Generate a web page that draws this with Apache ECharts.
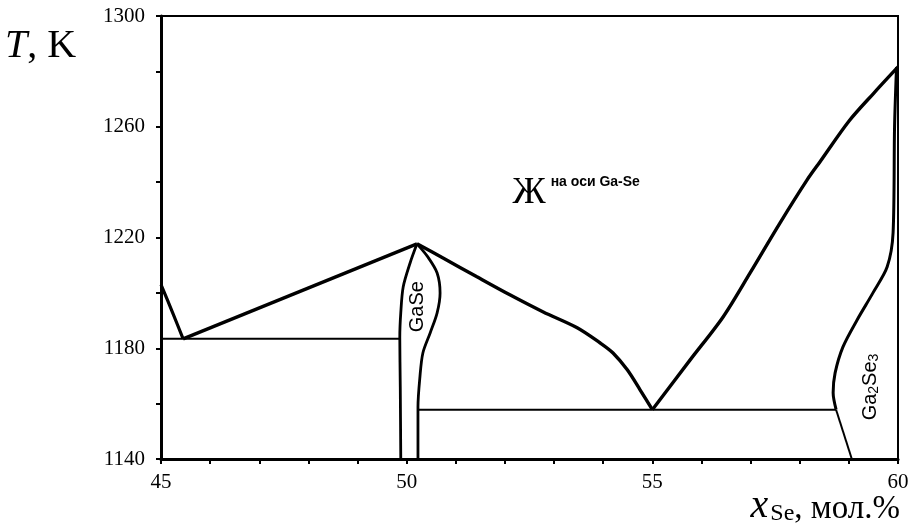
<!DOCTYPE html>
<html><head><meta charset="utf-8">
<script src="https://cdn.jsdelivr.net/npm/echarts@6/dist/echarts.min.js"></script>
<style>html,body{margin:0;padding:0;background:#fff}#c{width:916px;height:531px}</style>
</head><body><div id="c"></div>
<script>
// ---- data (x: mol.% Se, y: T in K) ----
var xTicks = [45, 50, 55, 60];
var yTicks = [1140, 1180, 1220, 1260, 1300];
var liqLeft = [[45.0, 1203], [45.24, 1192.7], [45.45, 1183.4]];
var liqToGaSe = [[45.45, 1183.4], [50.21, 1217.7]];
var liqGaSeRight = [[50.21, 1217.7], [50.74, 1212.6], [51.43, 1205.8], [52.10, 1199.3], [52.78, 1193.1], [53.47, 1187.4], [53.94, 1181.9], [54.2, 1178.3], [54.49, 1172.2], [54.75, 1165.0], [55.0, 1157.8]];
var liqRight = [[55.0, 1157.8], [55.77, 1175.8], [56.44, 1191.3], [56.99, 1207.2], [57.60, 1225.3], [58.15, 1240.8], [58.41, 1247.3], [59.0, 1262.0], [59.5, 1272.0], [60.0, 1281.6]];
var eutLeft = [[45.0, 1183.4], [49.86, 1183.4]];
var eutRight = [[50.23, 1157.8], [58.74, 1157.8]];
var gaseLeft = [[50.21, 1217.7], [50.07, 1210.8], [49.93, 1202.2], [49.88, 1192.8], [49.86, 1184], [49.87, 1166], [49.88, 1140]];
var gaseRight = [[50.21, 1217.7], [50.43, 1213], [50.62, 1207.2], [50.68, 1200], [50.62, 1192.8], [50.48, 1185.6], [50.33, 1178.3], [50.27, 1169.7], [50.23, 1158.8], [50.23, 1140]];
var ga2se3Upper = [[59.97, 1281.6], [59.93, 1260], [59.9, 1221.7], [59.78, 1209.4], [59.49, 1200], [59.17, 1190.3], [58.88, 1180.5], [58.72, 1171.1], [58.68, 1163.9], [58.74, 1157.8]];
var ga2se3Lower = [[58.74, 1157.8], [59.06, 1140]];
var labelLiquid = [[53.45, 1236]];
var labelGaSe = [[50.21, 1195]];
var labelGa2Se3 = [[59.45, 1166]];

var chart = echarts.init(document.getElementById('c'), null, {renderer: 'canvas'});
function line(data, w, smooth) {
  return {type: 'line', data: data, showSymbol: false, symbol: 'none', smooth: smooth || false,
    lineStyle: {color: '#000', width: w}, z: 3, silent: true};
}
function lbl(data, fmt, rich, rotate) {
  return {type: 'scatter', data: data, symbolSize: 1, itemStyle: {color: 'rgba(255,255,255,0)'}, silent: true, z: 5,
    label: {show: true, position: 'inside', formatter: fmt, rich: rich, rotate: rotate || 0, color: '#000', opacity: 1, textBorderWidth: 0}};
}
var serif = '"Liberation Serif", "Times New Roman", serif';
var narrow = '"Liberation Sans Narrow", "Arial Narrow", "Liberation Sans", sans-serif';
chart.setOption({
  animation: false,
  backgroundColor: '#fff',
  grid: {left: 161, right: 18, top: 16, bottom: 72, show: true, borderColor: '#000', borderWidth: 2, backgroundColor: 'transparent'},
  xAxis: {type: 'value', min: 45, max: 60, interval: 1,
    axisLine: {lineStyle: {color: '#000', width: 3}},
    axisTick: {show: true, length: 5, lineStyle: {color: '#000', width: 2}},
    splitLine: {show: false},
    axisLabel: {color: '#000', fontFamily: serif, fontSize: 21, margin: 13,
      formatter: function (v) { return xTicks.indexOf(v) >= 0 ? String(v) : ''; }}},
  yAxis: {type: 'value', min: 1140, max: 1300, interval: 20,
    axisLine: {lineStyle: {color: '#000', width: 3}},
    axisTick: {show: true, length: 5, lineStyle: {color: '#000', width: 2}},
    splitLine: {show: false},
    axisLabel: {color: '#000', fontFamily: serif, fontSize: 21, margin: 16,
      formatter: function (v) { return yTicks.indexOf(v) >= 0 ? String(v) : ''; }}},
  graphic: [
    {type: 'text', left: 5, top: 26, style: {
      text: '{i|T}{n|, K}', rich: {i: {fontFamily: serif, fontStyle: 'italic', fontSize: 40, fill: '#000'}, n: {fontFamily: serif, fontSize: 40, fill: '#000'}}}},
    {type: 'text', right: 16, top: 486, style: {
      text: '{i|x}{s|Se}{n|, мол.%}', rich: {
        i: {fontFamily: serif, fontStyle: 'italic', fontSize: 40, fill: '#000', verticalAlign: 'bottom', padding: [0, 2, 0, 0]},
        s: {fontFamily: serif, fontSize: 24, fill: '#000', verticalAlign: 'bottom'},
        n: {fontFamily: serif, fontSize: 33, fill: '#000', verticalAlign: 'bottom'}}}}
  ],
  series: [
    line(liqLeft, 3.2, 0.3),
    line(liqToGaSe, 3.4),
    line(liqGaSeRight, 3.4, 0.3),
    line(liqRight, 3.4, 0.3),
    line(eutLeft, 2),
    line(eutRight, 2),
    line(gaseLeft, 2.8, 0.3),
    line(gaseRight, 2.8, 0.3),
    line(ga2se3Upper, 3, 0.3),
    line(ga2se3Lower, 2),
    lbl(labelLiquid, '{a|Ж}{b|на оси Ga-Se}', {
      a: {fontFamily: serif, fontSize: 37, color: '#000', verticalAlign: 'bottom'},
      b: {fontFamily: '"Liberation Sans", sans-serif', fontWeight: 'bold', fontSize: 14, color: '#000', verticalAlign: 'top', padding: [0, 0, 0, 5]}}),
    lbl(labelGaSe, '{a|GaSe}', {a: {fontFamily: narrow, fontSize: 20, color: '#000'}}, 90),
    lbl(labelGa2Se3, '{a|Ga}{s|2}{a|Se}{s|3}', {
      a: {fontFamily: narrow, fontSize: 20, color: '#000', verticalAlign: 'bottom'},
      s: {fontFamily: narrow, fontSize: 14, color: '#000', verticalAlign: 'bottom'}}, 90)
  ]
});
</script></body></html>
